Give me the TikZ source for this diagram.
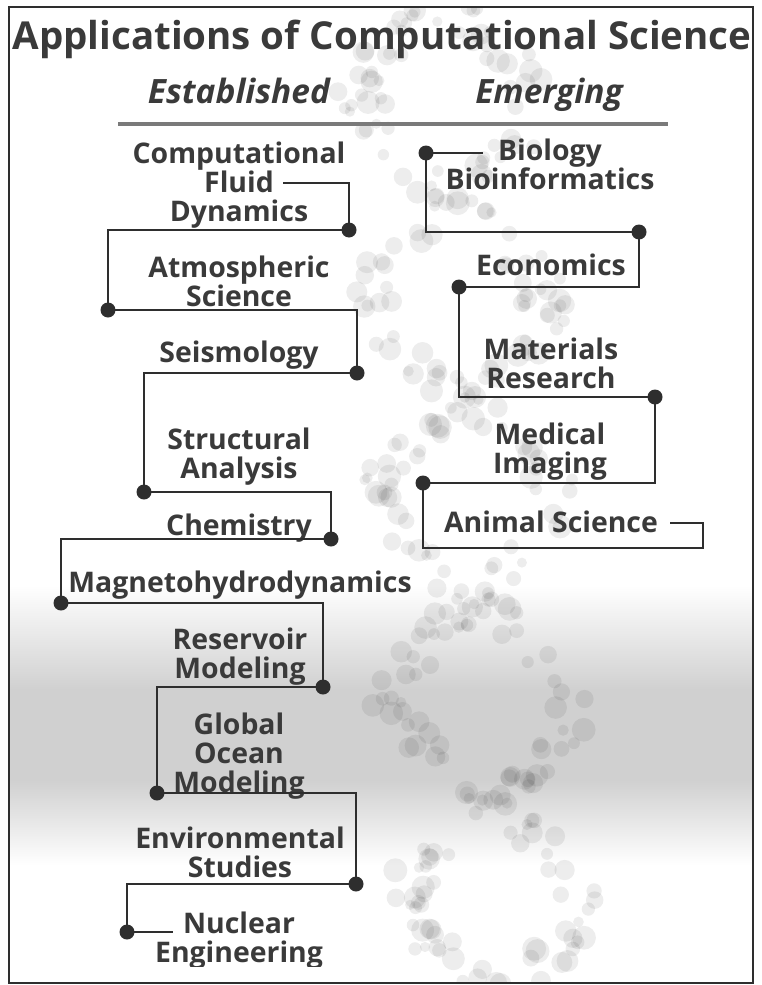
\documentclass[tikz,border=0pt]{standalone}
\usepackage{fontspec}
\setmainfont{Open Sans}
\definecolor{ink}{HTML}{3A3A3A}
\definecolor{linec}{HTML}{2E2E2E}
\definecolor{rulec}{HTML}{7A7A7A}
\definecolor{bandc}{HTML}{D0D0D0}
\begin{document}
\begin{tikzpicture}[x=1pt,y=-1pt,
  lbl/.style={font=\bfseries\fontsize{28.4}{28.6}\selectfont, text=ink, align=center, inner sep=0pt, anchor=base},
  hdr/.style={font=\bfseries\itshape\fontsize{33.5}{35}\selectfont, text=ink, anchor=base, inner sep=0pt},
  dotnode/.style={circle, fill=linec, draw=none, inner sep=0pt, minimum size=15pt},
  conn/.style={draw=linec, line width=2pt}]
\useasboundingbox (0,0) rectangle (762,985);
% background texture
\begin{scope}
\clip (10,8) rectangle (752,982);
\shade[top color=white, bottom color=bandc] (10,585) rectangle (752,690);
\fill[bandc] (10,689) rectangle (752,781);
\shade[top color=bandc, bottom color=white] (10,780) rectangle (752,865);
\pgfmathsetseed{12}
\foreach \i in {1,...,320}{
  \pgfmathsetmacro{\yy}{985*rnd}
  \pgfmathsetmacro{\side}{180*(rnd>0.5)}
  \pgfmathsetmacro{\xx}{440+0.06*\yy+85*sin(\yy*0.9+\side)+25*rand}
  \pgfmathsetmacro{\rr}{5+7*rnd}
  \fill[black, opacity=0.07] (\xx,\yy) circle (\rr);
}
\end{scope}
% frame
\draw[linec, line width=2pt] (9,7) rectangle (753,983);
% title and headings
\node[font=\bfseries\fontsize{38.5}{40}\selectfont, text=ink, anchor=base, inner sep=0pt] (title) at (382,49) {Applications of Computational Science};
\node[hdr] (est) at (239,103) {Established};
\node[hdr] (emg) at (549,103) {Emerging};
\draw[rulec, line width=3.5pt] (118,124) -- (668,124);
% left labels (base = baseline of last line)
\node[lbl] (cfd) at (239,221) {Computational\\Fluid\\Dynamics};
\node[lbl] (atm) at (239,306) {Atmospheric\\Science};
\node[lbl] (seis) at (239,362) {Seismology};
\node[lbl] (stru) at (239,478) {Structural\\Analysis};
\node[lbl] (chem) at (239,535) {Chemistry};
\node[lbl] (mhd) at (240,592) {Magnetohydrodynamics};
\node[lbl] (res) at (240,678) {Reservoir\\Modeling};
\node[lbl] (gom) at (239,792) {Global\\Ocean\\Modeling};
\node[lbl] (env) at (240,877) {Environmental\\Studies};
\begin{scope}
\clip (0,0) rectangle (762,966);
\node[lbl] (nuc) at (239,962) {Nuclear\\Engineering};
\end{scope}
% right labels
\node[lbl] (bio) at (550,189) {Biology\\Bioinformatics};
\node[lbl] (econ) at (551,275) {Economics};
\node[lbl] (mat) at (551,388) {Materials\\Research};
\node[lbl] (med) at (550,473) {Medical\\Imaging};
\node[lbl] (ani) at (551,532) {Animal Science};
% dots
\node[dotnode] (d-cfd) at (349,230) {};
\node[dotnode] (d-atm) at (108,310) {};
\node[dotnode] (d-seis) at (357,373) {};
\node[dotnode] (d-stru) at (144,492) {};
\node[dotnode] (d-chem) at (331,539) {};
\node[dotnode] (d-mhd) at (61,603) {};
\node[dotnode] (d-res) at (323,687) {};
\node[dotnode] (d-gom) at (157,793) {};
\node[dotnode] (d-env) at (356,884) {};
\node[dotnode] (d-nuc) at (127,932) {};
\node[dotnode] (d-bio) at (426,153) {};
\node[dotnode] (d-econ) at (639,232) {};
\node[dotnode] (d-mat) at (459,287) {};
\node[dotnode] (d-med) at (655,397) {};
\node[dotnode] (d-ani) at (423,483) {};
% free ends
\coordinate (cfd-start) at (283,183);
\coordinate (nuc-end) at (173,932);
\coordinate (bio-end) at (483,153);
\coordinate (ani-c1) at (703,548);
\coordinate (ani-end) at (670,523);
% connectors left
\draw[conn] (cfd-start) -| (d-cfd.center);
\draw[conn] (d-cfd.center) -| (d-atm.center);
\draw[conn] (d-atm.center) -| (d-seis.center);
\draw[conn] (d-seis.center) -| (d-stru.center);
\draw[conn] (d-stru.center) -| (d-chem.center);
\draw[conn] (d-chem.center) -| (d-mhd.center);
\draw[conn] (d-mhd.center) -| (d-res.center);
\draw[conn] (d-res.center) -| (d-gom.center);
\draw[conn] (d-gom.center) -| (d-env.center);
\draw[conn] (d-env.center) -| (d-nuc.center);
\draw[conn] (d-nuc.center) -- (nuc-end);
% connectors right
\draw[conn] (d-bio.center) -- (bio-end);
\draw[conn] (d-bio.center) |- (d-econ.center);
\draw[conn] (d-econ.center) |- (d-mat.center);
\draw[conn] (d-mat.center) |- (d-med.center);
\draw[conn] (d-med.center) |- (d-ani.center);
\draw[conn] (d-ani.center) |- (ani-c1) |- (ani-end);
\end{tikzpicture}
\end{document}
